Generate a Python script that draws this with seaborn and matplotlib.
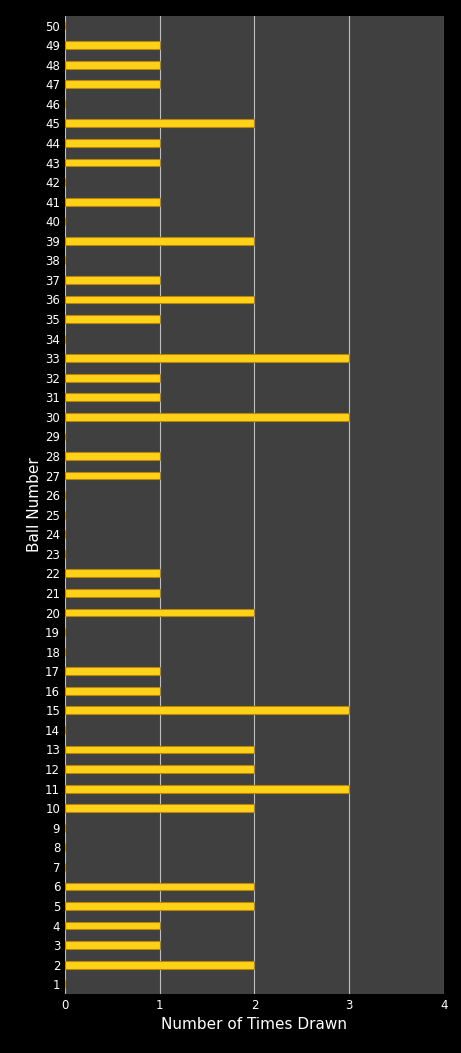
import seaborn as sns
import pandas as pd
import matplotlib.pyplot as plt

# times each ball was drawn (balls not listed = 0)
balls = list(range(1, 51))
drawn_balls = [2, 3, 4, 5, 6, 10, 11, 12, 13, 15, 16, 17, 20, 21, 22, 27, 28, 30, 31, 32,
               33, 35, 36, 37, 39, 41, 43, 44, 45, 47, 48, 49]
drawn_counts = [2, 1, 1, 2, 2, 2, 3, 2, 2, 3, 1, 1, 2, 1, 1, 1, 1, 3, 1, 1,
                3, 1, 2, 1, 2, 1, 1, 1, 2, 1, 1, 1]

count_map = dict(zip(drawn_balls, drawn_counts))
df = pd.DataFrame({'ball': [str(b) for b in balls],
                   'count': [count_map.get(b, 0) for b in balls]})

fig = plt.figure(figsize=(4.61, 10.53), dpi=100, facecolor='black')
ax = fig.add_axes([0.141, 0.056, 0.822, 0.929])
ax.set_facecolor('#404040')

order = [str(b) for b in reversed(balls)]
sns.barplot(data=df, x='count', y='ball', order=order, orient='h',
            color='#FFD21A', width=0.4, edgecolor='#B8860B', linewidth=0.8,
            saturation=1, ax=ax, zorder=3)

ax.set_xlim(0, 4)
ax.set_xticks([0, 1, 2, 3, 4])
ax.xaxis.grid(True, color='#BFBFBF', linewidth=0.8, zorder=0)
ax.set_axisbelow(True)
for s in ax.spines.values():
    s.set_visible(False)
ax.tick_params(colors='white', labelsize=8.5, length=0)
ax.set_xlabel('Number of Times Drawn', color='white', fontsize=11)
ax.set_ylabel('Ball Number', color='white', fontsize=11, labelpad=2)

fig.savefig('out.png', dpi=100, facecolor='black')
